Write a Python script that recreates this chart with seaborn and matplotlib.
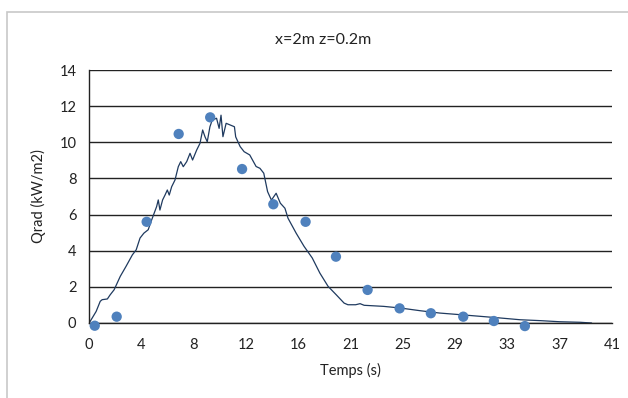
import numpy as np
import pandas as pd
import matplotlib
matplotlib.use("Agg")
import matplotlib.pyplot as plt
import seaborn as sns
from matplotlib.patches import Rectangle

# measured curve (noisy trace)
t_line = [0.0, 0.1, 0.56, 0.88, 1.03, 1.44, 1.66, 1.97, 2.45, 2.9, 3.4, 3.7, 4.0, 4.3, 4.64,
          4.91, 5.3, 5.43, 5.56, 5.77, 5.96, 6.14, 6.29, 6.48, 6.74, 7.0, 7.19, 7.39, 7.66,
          7.92, 8.12, 8.44, 8.7, 8.91, 9.09, 9.27, 9.48,
          9.66, 10.0, 10.2, 10.35, 10.5, 10.75, 11.06, 11.4, 11.5, 11.85, 12.16,
          12.6, 13.1, 13.4, 13.7, 14.0, 14.3, 14.67, 15.0, 15.36, 15.6, 16.24, 16.86, 17.5,
          18.1, 18.74, 19.37, 20.0, 20.3, 20.9, 21.25, 21.57, 23.1, 24.4, 25.96, 27.5, 29.1,
          30.66, 32.2, 33.8, 35.4, 36.9, 38.5, 39.4]
q_line = [0.0, 0.1, 0.64, 1.2, 1.29, 1.33, 1.56, 1.84, 2.58, 3.13, 3.77, 4.05, 4.7, 4.97, 5.16,
          5.70, 6.44, 6.81, 6.25, 6.81, 7.08, 7.36, 7.08, 7.54, 7.91, 8.65, 8.93, 8.65, 8.93,
          9.39, 9.02, 9.57, 9.94, 10.68, 10.31, 10.03, 10.86,
          11.23, 11.33, 10.77, 11.5, 10.31, 11.05, 10.96, 10.86, 10.3, 9.76, 9.48,
          9.3, 8.66, 8.56, 8.29, 7.27, 6.8, 7.18, 6.63, 6.35, 5.8, 4.97, 4.24, 3.6,
          2.76, 2.03, 1.57, 1.1, 1.01, 1.01, 1.07, 0.98, 0.92, 0.83, 0.68, 0.55, 0.46,
          0.37, 0.28, 0.18, 0.13, 0.07, 0.04, 0.0]

# computed points
t_pts = [0.45, 2.17, 4.52, 7.03, 9.5, 12.0, 14.45, 16.98, 19.36, 21.84, 24.35, 26.8, 29.34, 31.74, 34.17]
q_pts = [-0.15, 0.35, 5.6, 10.46, 11.38, 8.52, 6.57, 5.6, 3.67, 1.83, 0.81, 0.54, 0.35, 0.11, -0.17]

x_labels = ["0", "4", "8", "12", "16", "21", "25", "29", "33", "37", "41"]

sns.set_style("white")
plt.rcParams["font.family"] = ["Lato", "DejaVu Sans"]

fig = plt.figure(figsize=(6.28, 3.98), dpi=100)
ax = fig.add_axes([89 / 628, 1 - 323 / 398, 523 / 628, 253 / 398])

fig.patches.append(Rectangle((7 / 628, -0.1), 1.2, 1.1 - 12 / 398, transform=fig.transFigure,
                             fill=False, edgecolor="#c8c8c8", linewidth=1.2))

line_df = pd.DataFrame({"t": t_line, "q": q_line})
pts_df = pd.DataFrame({"t": t_pts, "q": q_pts})

sns.lineplot(data=line_df, x="t", y="q", ax=ax, color="#1f3a5f", linewidth=0.9, sort=False)
sns.scatterplot(data=pts_df, x="t", y="q", ax=ax, color="#4f81bd", s=55, edgecolor="none",
                clip_on=False, zorder=5)

ax.set_xlim(0, 41)
ax.set_ylim(0, 14)
ax.set_yticks(range(0, 15, 2))
ax.set_xticks(np.linspace(0, 41, 11))
ax.set_xticklabels(x_labels)
ax.yaxis.grid(True, color="#222222", linewidth=1.0)
ax.set_axisbelow(True)
for s in ["top", "right"]:
    ax.spines[s].set_visible(False)
for s in ["left", "bottom"]:
    ax.spines[s].set_color("#222222")
    ax.spines[s].set_linewidth(1.0)
ax.tick_params(axis="both", direction="out", length=5, width=1, color="#222222",
               labelsize=10.5, labelcolor="#222222", pad=4)
ax.tick_params(axis="x", pad=6)

ax.set_xlabel("Temps (s)", fontsize=10.5, color="#222222", labelpad=8)
ax.set_ylabel("Qrad (kW/m2)", fontsize=10.5, color="#222222", labelpad=10)
fig.text(323 / 628, 1 - 40 / 398, "x=2m z=0.2m", ha="center", va="center", fontsize=11.5, color="#222222")

plt.savefig("out.png", dpi=100)
